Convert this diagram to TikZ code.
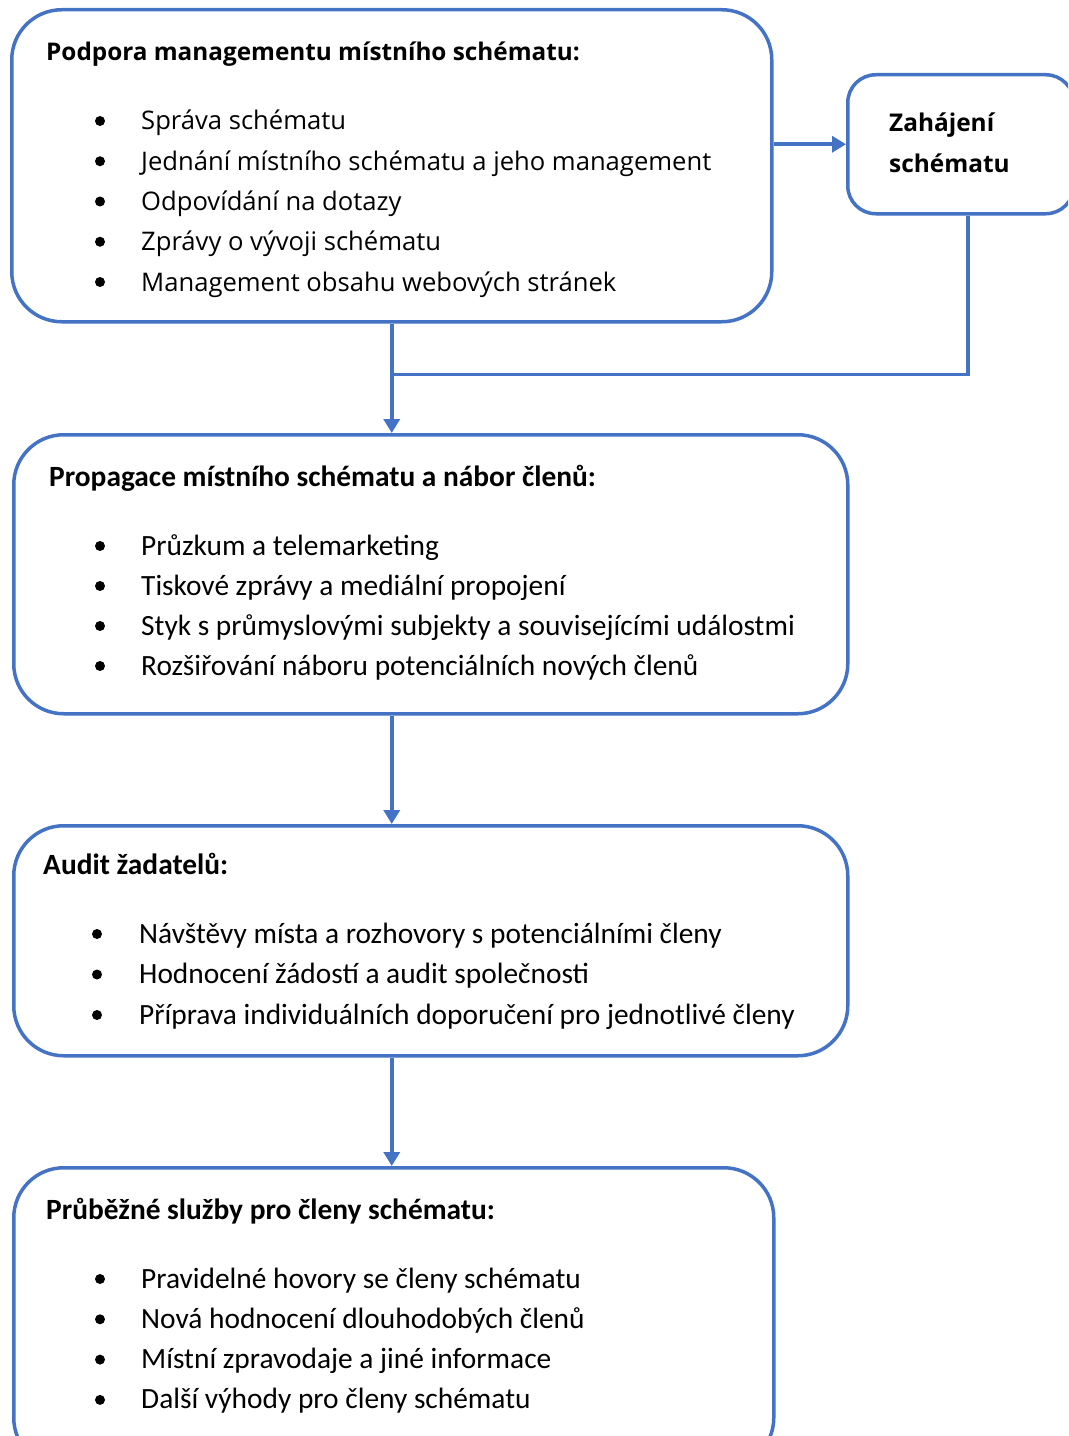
\documentclass[tikz,border=0pt]{standalone}
\usepackage{fontspec}
\setmainfont{Carlito}
\newfontfamily\segoe{Open Sans}
\usetikzlibrary{arrows.meta,calc}
\definecolor{boxblue}{HTML}{4472C4}
\tikzset{
  box/.style={draw=boxblue, line width=3.5bp, rounded corners=50bp,
    anchor=north west, inner sep=0pt},
  conn/.style={draw=boxblue, line width=3.5bp},
  arr/.style={conn, -{Triangle[width=16bp,length=14bp]}},
  head/.style={anchor=base west, inner sep=0pt,
    font=\bfseries\fontsize{29.5}{40}\selectfont},
  item/.style={anchor=base west, inner sep=0pt,
    font=\fontsize{29.5}{40}\selectfont},
  dot/.style={circle, fill=black, inner sep=0pt, minimum size=10bp},
}
\begin{document}
\begin{tikzpicture}[x=1bp, y=-1bp]
\useasboundingbox (0,0) rectangle (1068,1436);
\clip (0,0) rectangle (1068,1436);

% boxes
\node[box, minimum width=760bp, minimum height=312bp] (podpora) at (10,8) {};
\node[box, rounded corners=28bp, minimum width=226bp, minimum height=139bp] (zahajeni) at (846,73) {};
\node[box, minimum width=834bp, minimum height=279bp] (propagace) at (12,433) {};
\node[box, minimum width=834bp, minimum height=230bp] (audit) at (12,824) {};
\node[box, minimum width=760bp, minimum height=300bp] (sluzby) at (12,1166) {};

% texts
\node[head, font=\segoe\bfseries\fontsize{24.4}{40}\selectfont] (podpora-t) at (46,61)
  {Podpora managementu místního schématu:};
\foreach \txt [count=\i] in {Správa schématu,
    Jednání místního schématu a jeho management,
    Odpovídání na dotazy,
    Zprávy o vývoji schématu,
    Management obsahu webových stránek} {
  \node[dot] (podpora-b\i) at (100,{121+40.25*(\i-1)}) {};
  \node[item, font=\segoe\fontsize{25.7}{40}\selectfont] (podpora-i\i)
    at (141,{130+40.25*(\i-1)}) {\txt};
}

\node[head, font=\segoe\bfseries\fontsize{24.5}{40}\selectfont] (zahajeni-t1) at (889,132) {Zahájení};
\node[head, font=\segoe\bfseries\fontsize{24.5}{40}\selectfont] (zahajeni-t2) at (889,173) {schématu};

\node[head] (propagace-t) at (49,486) {Propagace místního schématu a nábor členů:};
\foreach \txt [count=\i] in {Průzkum a telemarketing,
    Tiskové zprávy a mediální propojení,
    Styk s průmyslovými subjekty a souvisejícími událostmi,
    Rozšiřování náboru potenciálních nových členů} {
  \node[dot] (propagace-b\i) at (100,{546+40*(\i-1)}) {};
  \node[item] (propagace-i\i) at (141,{555+40*(\i-1)}) {\txt};
}

\node[head] (audit-t) at (43,874) {Audit žadatelů:};
\foreach \txt [count=\i] in {Návštěvy místa a rozhovory s potenciálními členy,
    Hodnocení žádostí a audit společnosti,
    Příprava individuálních doporučení pro jednotlivé členy} {
  \node[dot] (audit-b\i) at (97,{934+40.5*(\i-1)}) {};
  \node[item] (audit-i\i) at (139,{943+40.5*(\i-1)}) {\txt};
}

\node[head] (sluzby-t) at (46,1219) {Průběžné služby pro členy schématu:};
\foreach \txt [count=\i] in {Pravidelné hovory se členy schématu,
    Nová hodnocení dlouhodobých členů,
    Místní zpravodaje a jiné informace,
    Další výhody pro členy schématu} {
  \node[dot] (sluzby-b\i) at (100,{1279+40.3*(\i-1)}) {};
  \node[item] (sluzby-i\i) at (141,{1288+40.3*(\i-1)}) {\txt};
}

% connectors
\coordinate (join) at ($(podpora.south)+(0,51)$);
\draw[arr] (podpora.east |- zahajeni.west) -- (zahajeni.west);
\draw[conn] ([xshift=7bp]zahajeni.south) |- (join);
\draw[arr] (podpora.south) -- (podpora.south |- propagace.north);
\draw[arr] (propagace.south -| podpora.south) -- (audit.north -| podpora.south);
\draw[arr] (audit.south -| podpora.south) -- (sluzby.north -| podpora.south);

\end{tikzpicture}
\end{document}
